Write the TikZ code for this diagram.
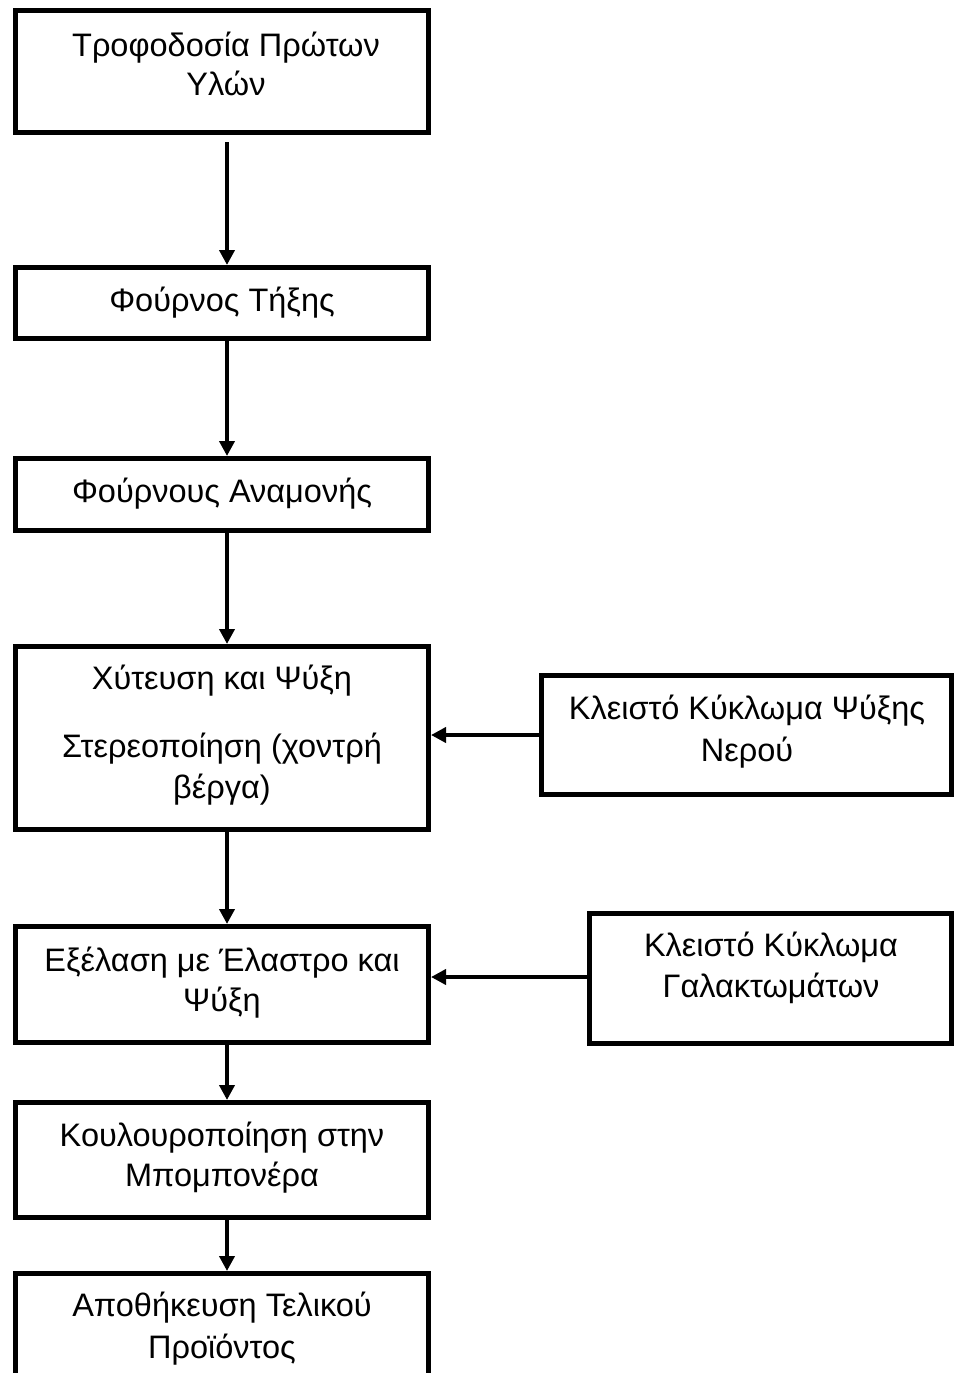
\documentclass[tikz,border=0pt]{standalone}
\usepackage{fontspec}
\setmainfont{Liberation Sans}
\usetikzlibrary{arrows.meta}
\begin{document}
\begin{tikzpicture}[x=1pt,y=-1pt,
  box/.style={draw=black,line width=5pt,rectangle,inner sep=0pt,fill=white},
  txt/.style={anchor=base,inner sep=0pt,font=\fontsize{32.5}{39}\selectfont},
  flow/.style={draw=black,line width=4.5pt,-{Triangle[length=15pt,width=15pt]}}]
\useasboundingbox (0,0) rectangle (956,1373);
\clip (0,0) rectangle (956,1373);
% boxes (outer extents from reference)
\node[box,minimum width=413pt,minimum height=122pt] (b1) at (222,71.5) {};
\node[box,minimum width=413pt,minimum height=71pt] (b2) at (222,303) {};
\node[box,minimum width=413pt,minimum height=72pt] (b3) at (222,494.5) {};
\node[box,minimum width=413pt,minimum height=183pt] (b4) at (222,738) {};
\node[box,minimum width=413pt,minimum height=116pt] (b5) at (222,984.5) {};
\node[box,minimum width=413pt,minimum height=115pt] (b6) at (222,1160) {};
\node[box,minimum width=413pt,minimum height=140pt] (b7) at (222,1343.5) {};
\node[box,minimum width=410pt,minimum height=119pt] (r1) at (746.5,735) {};
\node[box,minimum width=362pt,minimum height=130pt] (r2) at (770.5,978.5) {};
% texts
\node[txt] (t1a) at (226,56) {Τροφοδοσία Πρώτων};
\node[txt] (t1b) at (226,95) {Υλών};
\node[txt] (t2) at (222,311) {Φούρνος Τήξης};
\node[txt] (t3) at (222,502) {Φούρνους Αναμονής};
\node[txt] (t4a) at (222,689) {Χύτευση και Ψύξη};
\node[txt] (t4b) at (222,757) {Στερεοποίηση (χοντρή};
\node[txt] (t4c) at (222,798) {βέργα)};
\node[txt] (t5a) at (222,971) {Εξέλαση με Έλαστρο και};
\node[txt] (t5b) at (222,1011) {Ψύξη};
\node[txt] (t6a) at (222,1146) {Κουλουροποίηση στην};
\node[txt] (t6b) at (222,1186) {Μπομπονέρα};
\node[txt] (t7a) at (222,1316) {Αποθήκευση Τελικού};
\node[txt] (t7b) at (222,1358) {Προϊόντος};
\node[txt] (tr1a) at (747,719) {Κλειστό Κύκλωμα Ψύξης};
\node[txt] (tr1b) at (747,761) {Νερού};
\node[txt] (tr2a) at (771,956) {Κλειστό Κύκλωμα};
\node[txt] (tr2b) at (771,997) {Γαλακτωμάτων};
% connectors
\draw[flow] ([xshift=5pt,yshift=-7pt]b1.south) -- ([xshift=5pt]b2.north);
\draw[flow] ([xshift=5pt]b2.south) -- ([xshift=5pt]b3.north);
\draw[flow] ([xshift=5pt]b3.south) -- ([xshift=5pt]b4.north);
\draw[flow] ([xshift=5pt]b4.south) -- ([xshift=5pt]b5.north);
\draw[flow] ([xshift=5pt]b5.south) -- ([xshift=5pt]b6.north);
\draw[flow] ([xshift=5pt]b6.south) -- ([xshift=5pt]b7.north);
\draw[flow] (r1.west) -- (r1.west -| b4.east);
\draw[flow] ([yshift=1.5pt]r2.west) -- ([yshift=1.5pt]r2.west -| b5.east);
\end{tikzpicture}
\end{document}
